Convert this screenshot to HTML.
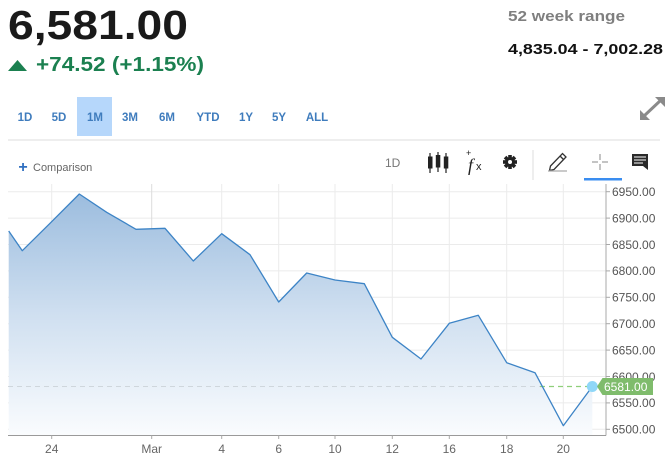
<!DOCTYPE html>
<html><head><meta charset="utf-8"><style>
html,body{margin:0;padding:0;background:#fff;}
svg{display:block;font-family:"Liberation Sans",Arial,sans-serif;}
</style></head><body>
<svg width="670" height="462" viewBox="0 0 670 462" xmlns="http://www.w3.org/2000/svg">
<defs>
<linearGradient id="g" x1="0" y1="192" x2="0" y2="435" gradientUnits="userSpaceOnUse">
<stop offset="0" stop-color="#9bbcde"/>
<stop offset="0.5" stop-color="#cfdff0"/>
<stop offset="1" stop-color="#fafcfe"/>
</linearGradient>
</defs>
<!-- header -->
<text x="8" y="39" font-size="41" font-weight="bold" fill="#1a1a1a" textLength="180" lengthAdjust="spacingAndGlyphs">6,581.00</text>
<polygon points="8,71 27,71 17.5,60" fill="#1b8050"/>
<text x="36" y="71" font-size="20" font-weight="bold" fill="#1b8050" textLength="168" lengthAdjust="spacingAndGlyphs">+74.52 (+1.15%)</text>
<text x="508" y="21" font-size="15" font-weight="bold" fill="#7f7f7f" textLength="117" lengthAdjust="spacingAndGlyphs">52 week range</text>
<text x="508" y="54" font-size="15" font-weight="bold" fill="#111" textLength="155" lengthAdjust="spacingAndGlyphs">4,835.04 - 7,002.28</text>
<!-- time buttons -->
<rect x="77" y="97" width="35" height="39" fill="#b6d7fb"/>
<g font-size="11.5" font-weight="bold" fill="#3f7cbd" text-anchor="middle">
<text x="25" y="121">1D</text>
<text x="59" y="121">5D</text>
<text x="95" y="121">1M</text>
<text x="130" y="121">3M</text>
<text x="167" y="121">6M</text>
<text x="208" y="121">YTD</text>
<text x="246" y="121">1Y</text>
<text x="279" y="121">5Y</text>
<text x="317" y="121">ALL</text>
</g>
<!-- expand icon -->
<g stroke="#8a8a8a" stroke-width="3" fill="#8a8a8a">
<line x1="644" y1="116" x2="661" y2="100"/>
<polygon points="640,120 640,110 650,120" stroke="none"/>
<polygon points="665,97 655,97 665,107" stroke="none"/>
</g>
<line x1="8" y1="140" x2="660" y2="140" stroke="#dcdcdc" stroke-width="1"/>
<!-- comparison -->
<text x="23" y="172" font-size="16" font-weight="bold" fill="#2f6fc0" text-anchor="middle">+</text>
<text x="33" y="171" font-size="11" fill="#666">Comparison</text>
<!-- toolbar -->
<text x="385" y="167" font-size="12" fill="#777">1D</text>
<g fill="#222" stroke="#222">
<line x1="430" y1="153" x2="430" y2="173" stroke-width="1.2"/>
<rect x="428" y="156.5" width="4.5" height="12" stroke="none"/>
<line x1="438" y1="152" x2="438" y2="172" stroke-width="1.2"/>
<rect x="435.8" y="155" width="4.5" height="12.5" stroke="none"/>
<line x1="446" y1="153" x2="446" y2="173" stroke-width="1.2"/>
<rect x="443.8" y="156.5" width="4.5" height="12" stroke="none"/>
</g>
<text x="466" y="156" font-size="9" fill="#222">+</text>
<text x="468" y="171" font-size="18" font-style="italic" font-family="Liberation Serif,serif" fill="#222">f</text>
<text x="476" y="170" font-size="11" fill="#222">x</text>
<g transform="translate(510,162)">
<circle r="5" fill="#222"/>
<g fill="#222">
<rect x="-1.8" y="-7" width="3.6" height="14"/>
<rect x="-7" y="-1.8" width="14" height="3.6"/>
<rect x="-1.8" y="-7" width="3.6" height="14" transform="rotate(45)"/>
<rect x="-1.8" y="-7" width="3.6" height="14" transform="rotate(-45)"/>
</g>
<circle r="2" fill="#fff"/>
</g>
<line x1="533" y1="150" x2="533" y2="180" stroke="#ddd" stroke-width="1"/>
<g fill="none" stroke="#333" stroke-width="1.3">
<polygon points="550.5,166 562.5,153.5 566,157 554,169.5 549.5,170.5"/>
<line x1="560" y1="156" x2="563.5" y2="159.5"/>
<line x1="548" y1="171" x2="567" y2="171" stroke="#aaa"/>
</g>
<g stroke="#888" stroke-width="1">
<line x1="600" y1="154" x2="600" y2="160"/>
<line x1="600" y1="164" x2="600" y2="170"/>
<line x1="592" y1="162" x2="598" y2="162"/>
<line x1="602" y1="162" x2="608" y2="162"/>
</g>
<rect x="584" y="178" width="38" height="2.5" fill="#3a8df0"/>
<g>
<rect x="632" y="154" width="16" height="12" fill="#2a2a2a"/>
<polygon points="643,166 648,166 648,170" fill="#2a2a2a"/>
<g stroke="#fff" stroke-width="1">
<line x1="634" y1="157" x2="646" y2="157"/>
<line x1="634" y1="160" x2="646" y2="160"/>
<line x1="634" y1="163" x2="643" y2="163"/>
</g>
</g>
<!-- grid -->
<g stroke="#ebebeb" stroke-width="1">
<line x1="8" y1="191.7" x2="606" y2="191.7"/>
<line x1="8" y1="218.1" x2="606" y2="218.1"/>
<line x1="8" y1="244.5" x2="606" y2="244.5"/>
<line x1="8" y1="270.9" x2="606" y2="270.9"/>
<line x1="8" y1="297.3" x2="606" y2="297.3"/>
<line x1="8" y1="323.7" x2="606" y2="323.7"/>
<line x1="8" y1="350.1" x2="606" y2="350.1"/>
<line x1="8" y1="376.5" x2="606" y2="376.5"/>
<line x1="8" y1="402.9" x2="606" y2="402.9"/>
<line x1="8" y1="429.3" x2="606" y2="429.3"/>
<line x1="51.7" y1="184" x2="51.7" y2="435"/>
<line x1="221.7" y1="184" x2="221.7" y2="435"/>
<line x1="278.7" y1="184" x2="278.7" y2="435"/>
<line x1="335" y1="184" x2="335" y2="435"/>
<line x1="392.3" y1="184" x2="392.3" y2="435"/>
<line x1="449.3" y1="184" x2="449.3" y2="435"/>
<line x1="506.7" y1="184" x2="506.7" y2="435"/>
<line x1="563.3" y1="184" x2="563.3" y2="435"/>
</g>
<line x1="151.7" y1="184" x2="151.7" y2="435" stroke="#dcdcdc" stroke-width="1"/>
<!-- area -->
<path d="M8.7,231 L22.3,250.7 L50,223.3 L79.3,194 L106.7,212.3 L136,229.3 L165,228.3 L193.3,261 L221.7,233.7 L250,254.7 L278.7,302 L306.7,273 L335,280 L364.3,283.7 L392.3,337.3 L421,359 L449.3,323.3 L478.3,315.3 L506.7,362.7 L535,372.7 L563.3,425.7 L592.3,386.5 L592.3,435 L8.7,435 Z" fill="url(#g)"/>
<line x1="8" y1="386.5" x2="540" y2="386.5" stroke="#cfd6dc" stroke-width="1" stroke-dasharray="5,4"/>
<line x1="540" y1="386.5" x2="598" y2="386.5" stroke="#8fcf7a" stroke-width="1.2" stroke-dasharray="5,4"/>
<path d="M8.7,231 L22.3,250.7 L50,223.3 L79.3,194 L106.7,212.3 L136,229.3 L165,228.3 L193.3,261 L221.7,233.7 L250,254.7 L278.7,302 L306.7,273 L335,280 L364.3,283.7 L392.3,337.3 L421,359 L449.3,323.3 L478.3,315.3 L506.7,362.7 L535,372.7 L563.3,425.7 L592.3,386.5" fill="none" stroke="#3d84c6" stroke-width="1.3" stroke-linejoin="round"/>
<circle cx="592.3" cy="386.5" r="5.5" fill="#8fd7f8"/>
<!-- axes -->
<line x1="606" y1="184" x2="606" y2="435.5" stroke="#a8a8a8" stroke-width="1"/>
<line x1="8" y1="435.5" x2="606" y2="435.5" stroke="#9a9a9a" stroke-width="1"/>
<g stroke="#a8a8a8" stroke-width="1">
<line x1="606" y1="191.7" x2="610" y2="191.7"/>
<line x1="606" y1="218.1" x2="610" y2="218.1"/>
<line x1="606" y1="244.5" x2="610" y2="244.5"/>
<line x1="606" y1="270.9" x2="610" y2="270.9"/>
<line x1="606" y1="297.3" x2="610" y2="297.3"/>
<line x1="606" y1="323.7" x2="610" y2="323.7"/>
<line x1="606" y1="350.1" x2="610" y2="350.1"/>
<line x1="606" y1="376.5" x2="610" y2="376.5"/>
<line x1="606" y1="402.9" x2="610" y2="402.9"/>
<line x1="606" y1="429.3" x2="610" y2="429.3"/>
<line x1="51.7" y1="435.5" x2="51.7" y2="439"/>
<line x1="151.7" y1="435.5" x2="151.7" y2="439"/>
<line x1="221.7" y1="435.5" x2="221.7" y2="439"/>
<line x1="278.7" y1="435.5" x2="278.7" y2="439"/>
<line x1="335" y1="435.5" x2="335" y2="439"/>
<line x1="392.3" y1="435.5" x2="392.3" y2="439"/>
<line x1="449.3" y1="435.5" x2="449.3" y2="439"/>
<line x1="506.7" y1="435.5" x2="506.7" y2="439"/>
<line x1="563.3" y1="435.5" x2="563.3" y2="439"/>
</g>
<g font-size="12" fill="#555">
<text x="612" y="196">6950.00</text>
<text x="612" y="222.4">6900.00</text>
<text x="612" y="248.8">6850.00</text>
<text x="612" y="275.2">6800.00</text>
<text x="612" y="301.6">6750.00</text>
<text x="612" y="328">6700.00</text>
<text x="612" y="354.4">6650.00</text>
<text x="612" y="380.8">6600.00</text>
<text x="612" y="407.2">6550.00</text>
<text x="612" y="433.6">6500.00</text>
</g>
<polygon points="597,386.5 602.5,378 653,378 653,395 602.5,395" fill="#7fbc6c"/>
<text x="604" y="391" font-size="12" fill="#fff">6581.00</text>
<g font-size="12" fill="#666" text-anchor="middle">
<text x="51.7" y="453">24</text>
<text x="151.7" y="453">Mar</text>
<text x="221.7" y="453">4</text>
<text x="278.7" y="453">6</text>
<text x="335" y="453">10</text>
<text x="392.3" y="453">12</text>
<text x="449.3" y="453">16</text>
<text x="506.7" y="453">18</text>
<text x="563.3" y="453">20</text>
</g>
</svg>
</body></html>
